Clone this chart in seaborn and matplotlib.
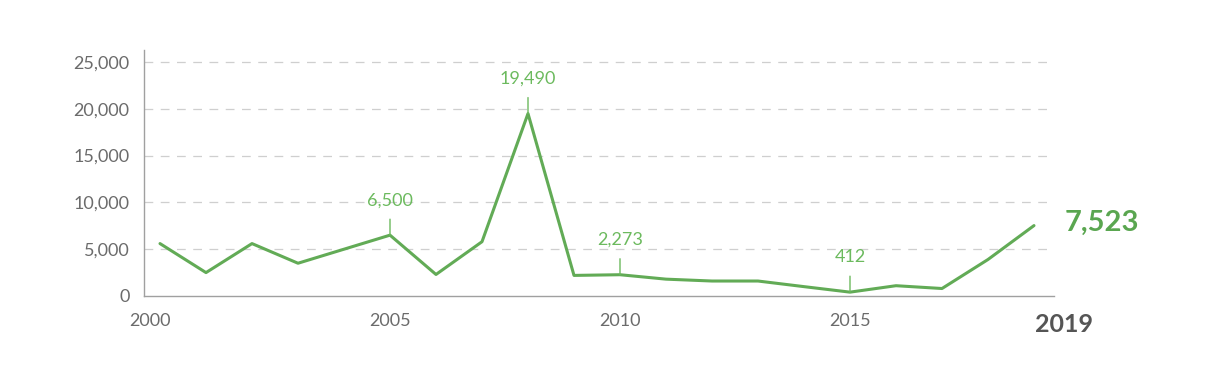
import matplotlib
matplotlib.use("Agg")
import matplotlib.pyplot as plt
import matplotlib.transforms as mtransforms
import seaborn as sns
import pandas as pd

years = list(range(2000, 2020))
values = [5600, 2500, 5600, 3500, 5000, 6500, 2300, 5800, 19490, 2200,
          2273, 1800, 1600, 1600, 1000, 412, 1100, 800, 3900, 7523]
annotated_years = [2005, 2008, 2010, 2015]
tick_labels = ["2000", "2005", "2010", "2015", "2019"]
y_ticks = [0, 5000, 10000, 15000, 20000, 25000]

LINE = "#62ab56"
TEXT_GREEN = "#6cba5e"
BOLD_GREEN = "#5aa650"
GRAY = "#6b6b6b"
AXIS = "#a0a0a0"

sns.set_style("white")
plt.rcParams["font.family"] = ["Lato", "DejaVu Sans"]

df = pd.DataFrame({"year": years, "value": values})

fig = plt.figure(figsize=(12.14, 3.72), dpi=100)
ax = fig.add_axes([144 / 1214, 1 - 296 / 372, (1054 - 144) / 1214, (296 - 50) / 372])

x0 = 2000 - 16 / 46
x1 = 2000 + (1054 - 160) / 46
ax.set_xlim(x0, x1)
ax.set_ylim(0, 26280)

for yv in y_ticks[1:]:
    ax.axhline(yv, color="#cfcfcf", lw=0.9, ls=(0, (7, 6)), zorder=1)

sns.lineplot(data=df, x="year", y="value", ax=ax, color=LINE, lw=2.2, zorder=3)

lookup = dict(zip(years, values))
for yr in annotated_years:
    v = lookup[yr]
    ax.annotate("", xy=(yr, v), xytext=(0, 11.5), textcoords="offset points",
                arrowprops=dict(arrowstyle="-", color=TEXT_GREEN, lw=1.0,
                                shrinkA=0, shrinkB=0))
    ax.annotate(f"{v:,}", xy=(yr, v), xytext=(0, 25), textcoords="offset points",
                ha="center", va="center", color=TEXT_GREEN, fontsize=13)

last_year, last_val = years[-1], values[-1]
ax.annotate(f"{last_val:,}", xy=(last_year, last_val), xytext=(22, 2),
            textcoords="offset points", ha="left", va="center",
            color=BOLD_GREEN, fontsize=21, fontweight="bold")

ax.set_xticks([x0, 2005, 2010, 2015, x1])
ax.set_xticklabels(tick_labels)
ax.set_yticks(y_ticks)
ax.set_yticklabels([f"{t:,}" for t in y_ticks])

ax.tick_params(axis="both", colors=AXIS, labelcolor=GRAY, labelsize=13,
               length=6.5, width=1, direction="out")
ax.tick_params(axis="x", pad=6)
ax.tick_params(axis="y", pad=4)
xl = ax.get_xticklabels()
xl[-1].set_fontweight("bold")
xl[-1].set_fontsize(18)
xl[-1].set_color("#555555")
xl[-1].set_transform(xl[-1].get_transform() +
                     mtransforms.ScaledTranslation(10 / 100, 0, fig.dpi_scale_trans))
xl[0].set_transform(xl[0].get_transform() +
                    mtransforms.ScaledTranslation(6 / 100, 0, fig.dpi_scale_trans))

for s in ["top", "right"]:
    ax.spines[s].set_visible(False)
for s in ["left", "bottom"]:
    ax.spines[s].set_color(AXIS)
    ax.spines[s].set_linewidth(1)

ax.set_xlabel("")
ax.set_ylabel("")

fig.savefig("out.png", dpi=100)
